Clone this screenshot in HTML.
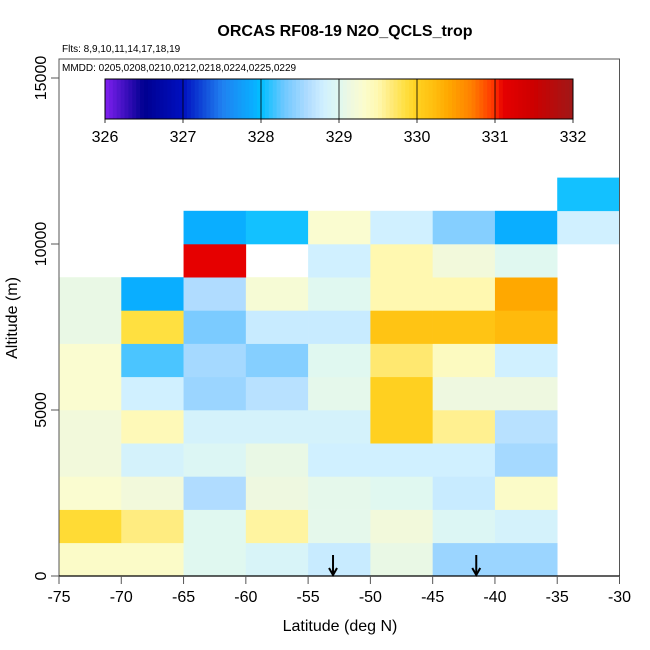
<!DOCTYPE html>
<html><head><meta charset="utf-8"><style>body{margin:0;background:#fff}svg{display:block;font-family:"Liberation Sans",sans-serif}</style></head>
<body>
<svg id="chart" width="650" height="650"></svg>
<script>
const latEdges=[-75,-70,-65,-60,-55,-50,-45,-40,-35,-30];
const altRows=[0,1000,2000,3000,4000,5000,6000,7000,8000,9000,10000,11000];
// values per row (row index = altitude bin), per column; null = no data
const row0=[329.35,329.35,329.0,328.9,328.75,329.1,328.5,328.5,null];
const row1=[329.9,329.65,329.0,329.55,329.05,329.2,328.95,328.85,null];
const row2=[329.3,329.2,328.6,329.15,329.05,329.0,328.75,329.35,null];
const row3=[329.2,328.85,328.95,329.1,328.8,328.8,328.8,328.55,null];
const row4=[329.2,329.45,328.85,328.85,328.85,330.0,329.6,328.65,null];
const row5=[329.3,328.8,328.5,328.65,329.05,330.0,329.15,329.15,null];
const row6=[329.3,328.2,328.55,328.4,329.0,329.7,329.4,328.8,null];
const row7=[329.1,329.85,328.35,328.75,328.75,330.15,330.15,330.25,null];
const row8=[329.1,327.9,328.6,329.25,329.0,329.5,329.5,330.4,null];
const row9=[null,null,331.1,null,328.8,329.5,329.2,329.0,null];
const row10=[null,null,327.9,328.05,329.3,328.8,328.4,327.9,328.8];
const row11=[null,null,null,null,null,null,null,null,328.05];
const rows=[row0,row1,row2,row3,row4,row5,row6,row7,row8,row9,row10,row11];
const xTicks=[-75,-70,-65,-60,-55,-50,-45,-40,-35,-30];
const yTicks=[0,5000,10000,15000];
const cbTicks=[326,327,328,329,330,331,332];
const arrowLats=[-53,-41.5];

const X0=59,X1=619.5,Y0=576,Ytop=59;
const xs=v=>X0+(v+75)/45*(X1-X0);
const ys=v=>Y0-v*0.0332;
const stops=[[326,'#8020f0'],[326.5,'#000090'],[327,'#0010c0'],[327.5,'#2080f0'],[327.9,'#0aaeff'],[328.0,'#00bfff'],[328.3,'#70c8ff'],[328.6,'#b0dcff'],[328.8,'#d0f0ff'],[329.0,'#e0f8f0'],[329.15,'#eef8e0'],[329.3,'#fafcd0'],[329.5,'#fff8b0'],[329.7,'#ffe870'],[329.85,'#ffe040'],[330.0,'#ffd020'],[330.2,'#ffc010'],[330.4,'#ffa800'],[330.7,'#ff8000'],[331.0,'#ff3000'],[331.1,'#e60000'],[331.5,'#cc0000'],[332,'#a01818']];
function hx(c){return [1,3,5].map(i=>parseInt(c.substr(i,2),16));}
function cmap(v){
 if(v<=stops[0][0])return stops[0][1];
 for(let i=1;i<stops.length;i++){if(v<=stops[i][0]){const a=stops[i-1],b=stops[i];const t=(v-a[0])/(b[0]-a[0]);const ca=hx(a[1]),cb=hx(b[1]);return 'rgb('+ca.map((c,k)=>Math.round(c+(cb[k]-c)*t)).join(',')+')';}}
 return stops[stops.length-1][1];
}
const svg=document.getElementById('chart');const NS='http://www.w3.org/2000/svg';
function mk(t,a,p){const e=document.createElementNS(NS,t);for(const k in a)e.setAttribute(k,a[k]);(p||svg).appendChild(e);return e;}
function txt(s,a){const e=mk('text',a);e.textContent=s;return e;}
const g=mk('g',{});


rows.forEach((r,ri)=>r.forEach((v,ci)=>{if(v===null)return;
 const x=xs(latEdges[ci]),x2=xs(latEdges[ci+1]),y=ys(altRows[ri]+1000),y2=ys(altRows[ri]);
 const c=mk('rect',{x:x,y:y,width:x2-x+0.3,height:y2-y+0.3,fill:cmap(v)},g);
 
 
}));
// frame
const fr=mk('rect',{x:X0,y:Ytop,width:X1-X0,height:Y0-Ytop,fill:'none',stroke:'#555','stroke-width':1});


mk('line',{x1:X0,y1:Y0,x2:X1,y2:Y0,stroke:'#000','stroke-width':1.2});
xTicks.forEach(t=>{const x=xs(t);mk('line',{x1:x,y1:Y0,x2:x,y2:Y0+8,stroke:'#555'});
 const e=txt(t,{x:x,y:Y0+26,'font-size':16,'text-anchor':'middle'});
 
 });
yTicks.forEach(t=>{const y=ys(t);mk('line',{x1:X0-8,y1:y,x2:X0,y2:y,stroke:'#555'});
 const e=txt(t,{x:0,y:0,'font-size':16,'text-anchor':'middle',transform:'translate(46,'+y+') rotate(-90)'});
 
 });
// arrows
arrowLats.forEach(a=>{const x=xs(a);const ga=mk('g',{stroke:'#000','stroke-width':2,fill:'none'});
 
 
 mk('line',{x1:x,y1:555,x2:x,y2:575},ga);mk('polyline',{points:(x-4)+',568 '+x+',575 '+(x+4)+',568'},ga);});
// colorbar
const CB0=105,CB1=573,CBy=79,CBh=40;
const cb=mk('g',{});


for(let i=0;i<120;i++){const v=326+i*6/120;const x=CB0+i*(CB1-CB0)/120;mk('rect',{x:x,y:CBy,width:(CB1-CB0)/120+0.5,height:CBh,fill:cmap(v+0.025)},cb);}
mk('rect',{x:CB0,y:CBy,width:CB1-CB0,height:CBh,fill:'none',stroke:'#000'},cb);
cbTicks.forEach(t=>{const x=CB0+(t-326)/6*(CB1-CB0);mk('line',{x1:x,y1:CBy,x2:x,y2:CBy+CBh+4,stroke:'#000','stroke-width':0.8},cb);
 const e=txt(t,{x:x,y:CBy+CBh+23,'font-size':16,'text-anchor':'middle'});
 
 });
const T=txt('ORCAS RF08-19 N2O_QCLS_trop',{x:345,y:36,'font-size':16,'font-weight':'bold','text-anchor':'middle'});


const f=txt('Flts: 8,9,10,11,14,17,18,19',{x:62,y:52,'font-size':10});


const m=txt('MMDD: 0205,0208,0210,0212,0218,0224,0225,0229',{x:62,y:71,'font-size':10});


const xl=txt('Latitude (deg N)',{x:340,y:631,'font-size':16,'text-anchor':'middle'});


const yl=txt('Altitude (m)',{x:0,y:0,'font-size':16,'text-anchor':'middle',transform:'translate(17,318) rotate(-90)'});


</script>
</body></html>
